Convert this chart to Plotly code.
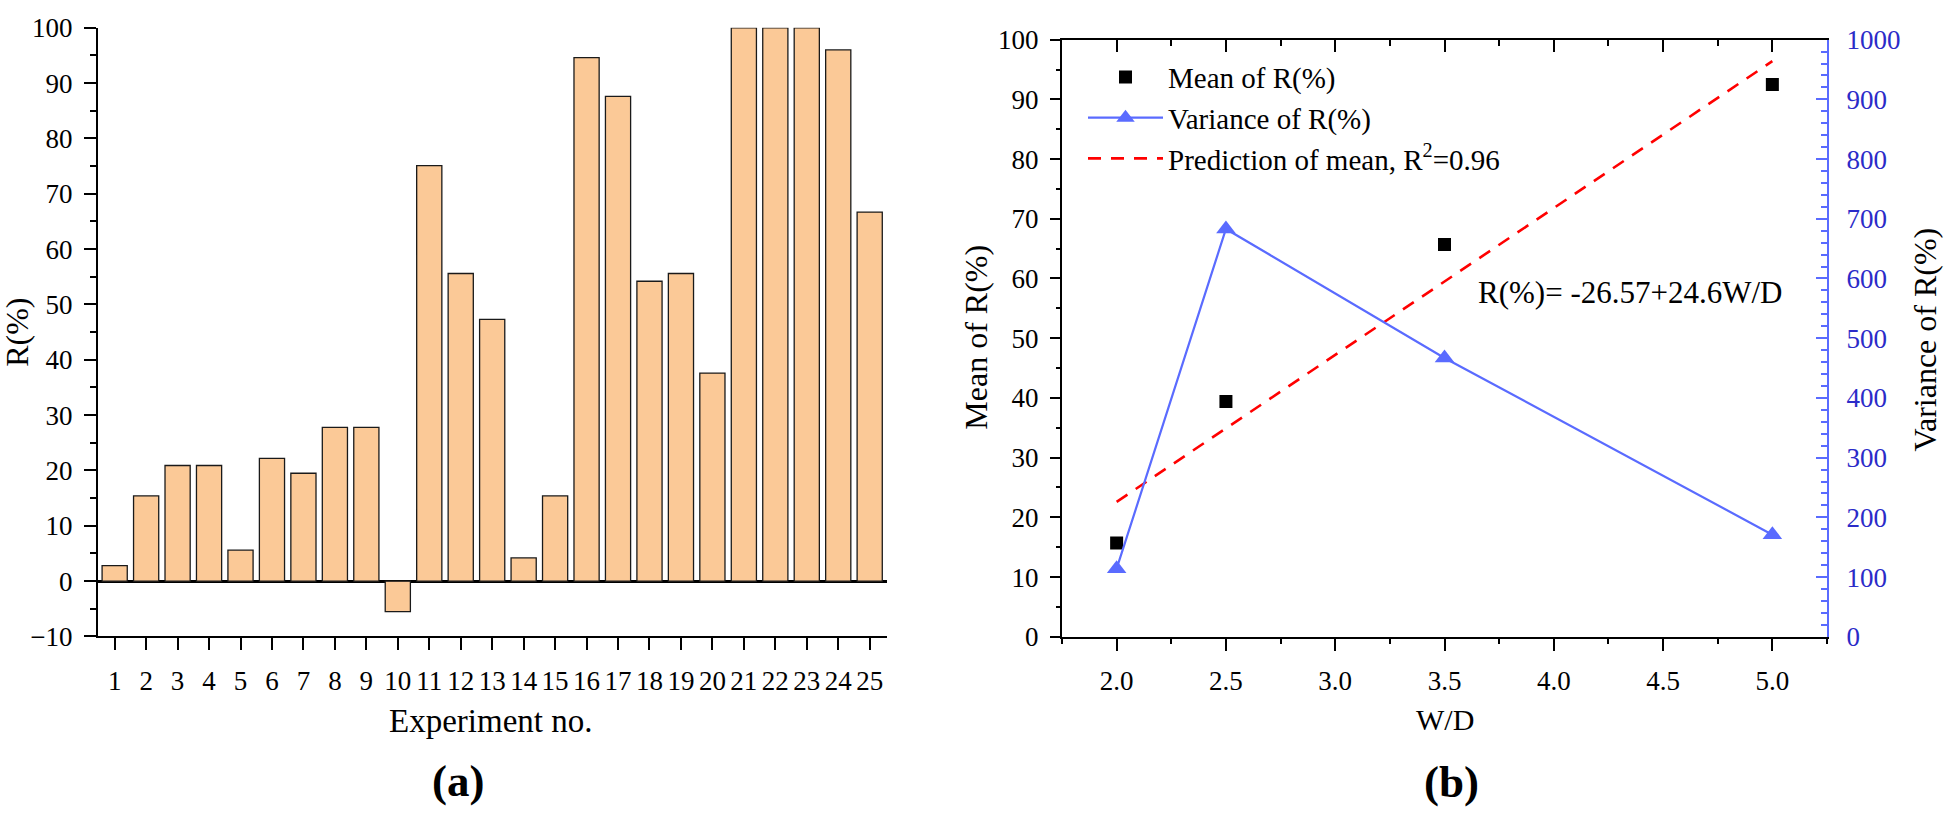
import plotly.graph_objects as go

# ---------------- data ----------------
experiments = list(range(1, 26))
r_values = [2.8, 15.4, 20.9, 20.9, 5.6, 22.2, 19.5, 27.8, 27.8, -5.5,
            75.1, 55.6, 47.3, 4.2, 15.4, 94.6, 87.6, 54.2, 55.6, 37.6,
            100.0, 100.0, 100.0, 96.0, 66.7]

wd_values = [2.0, 2.5, 3.5, 5.0]
mean_r = [15.7, 39.4, 65.7, 92.5]
variance_r = [114, 683, 467, 171]

pred_wd = [2.0, 5.0]
pred_mean = [22.6, 96.4]

x_ticks_b = [2.0, 2.5, 3.0, 3.5, 4.0, 4.5, 5.0]

# ---------------- style ----------------
W, H = 1944, 816
FONT = "Liberation Serif, Times New Roman, serif"
BAR_FILL = "#FBC997"
BLUE = "#5A6BFF"
BLUE_TXT = "#2B2BC8"

def px_x(x):
    return x / W

def px_y(y):
    return 1 - y / H

fig = go.Figure()

# Panel (a): bars
fig.add_trace(go.Bar(
    x=experiments, y=r_values, width=0.8,
    marker=dict(color=BAR_FILL, line=dict(color="#1a1a1a", width=1.3)),
    xaxis="x", yaxis="y", showlegend=False,
))

# Panel (b)
fig.add_trace(go.Scatter(
    x=wd_values, y=mean_r, mode="markers", name="Mean of R(%)",
    marker=dict(symbol="square", size=13, color="black"),
    xaxis="x2", yaxis="y2",
))
fig.add_trace(go.Scatter(
    x=wd_values, y=variance_r, mode="lines+markers", name="Variance of R(%)",
    line=dict(color=BLUE, width=2.2),
    marker=dict(symbol="triangle-up", size=17, color=BLUE),
    xaxis="x2", yaxis="y3",
))
fig.add_trace(go.Scatter(
    x=pred_wd, y=pred_mean, mode="lines",
    name="Prediction of mean, R<sup>2</sup>=0.96",
    line=dict(color="#FF0000", width=2.6, dash="13px,10px"),
    xaxis="x2", yaxis="y2",
))
# empty trace to host the top mirror axis
fig.add_trace(go.Scatter(x=[None], y=[None], mode="markers", xaxis="x3", yaxis="y2",
                         showlegend=False, hoverinfo="skip"))

tickfont = dict(family=FONT, size=27, color="black")

left_dom_a = [px_x(98), px_x(887)]
dom_y_a = [px_y(645.2), px_y(13.3)]
dom_x_b = [px_x(1062), px_x(1827)]
dom_y_b = [px_y(645.5), px_y(25.6)]

fig.update_layout(
    width=W, height=H,
    margin=dict(l=0, r=0, t=0, b=0),
    paper_bgcolor="white", plot_bgcolor="white",
    font=dict(family=FONT, color="black"),
    xaxis=dict(
        domain=left_dom_a, anchor="y", range=[0.47, 25.55],
        tickmode="array", tickvals=experiments, ticktext=[str(e) for e in experiments],
        ticks="outside", ticklen=12, tickwidth=2, tickcolor="black",
        showline=True, linecolor="black", linewidth=2,
        showgrid=False, zeroline=False, tickfont=tickfont, ticklabelstandoff=7,
    ),
    yaxis=dict(
        domain=dom_y_a, anchor="x", range=[-10, 100],
        dtick=10, ticks="outside", ticklen=12, tickwidth=2, tickcolor="black",
        minor=dict(dtick=5, ticks="outside", ticklen=6, tickwidth=2, tickcolor="black"),
        showline=True, linecolor="black", linewidth=2,
        showgrid=False, zeroline=True, zerolinecolor="black", zerolinewidth=3,
        tickfont=tickfont, ticklabelstandoff=6,
    ),
    xaxis2=dict(
        domain=dom_x_b, anchor="y2", range=[1.75, 5.25],
        tickmode="array", tickvals=x_ticks_b, ticktext=[f"{v:.1f}" for v in x_ticks_b],
        ticks="outside", ticklen=12, tickwidth=2, tickcolor="black",
        minor=dict(dtick=0.25, tick0=2.0, ticks="outside", ticklen=5, tickwidth=2, tickcolor="black"),
        showline=True, linecolor="black", linewidth=2,
        showgrid=False, zeroline=False, tickfont=tickfont, ticklabelstandoff=7,
    ),
    xaxis3=dict(
        overlaying="x2", side="top", anchor="y2", range=[1.75, 5.25],
        tickmode="array", tickvals=x_ticks_b, showticklabels=False,
        ticks="inside", ticklen=12, tickwidth=2, tickcolor="black",
        minor=dict(dtick=0.25, tick0=2.0, ticks="inside", ticklen=6, tickwidth=2, tickcolor="black"),
        showline=True, linecolor="black", linewidth=2,
        showgrid=False, zeroline=False,
    ),
    yaxis2=dict(
        domain=dom_y_b, anchor="x2", range=[0, 100],
        dtick=10, ticks="outside", ticklen=10, tickwidth=2, tickcolor="black",
        minor=dict(dtick=5, ticks="outside", ticklen=4, tickwidth=2, tickcolor="black"),
        showline=True, linecolor="black", linewidth=2,
        showgrid=False, zeroline=False, tickfont=tickfont, ticklabelstandoff=6,
    ),
    yaxis3=dict(
        overlaying="y2", side="right", anchor="x2", range=[0, 1000],
        dtick=100, ticks="inside", ticklen=11, tickwidth=2, tickcolor=BLUE,
        minor=dict(dtick=20, ticks="inside", ticklen=6, tickwidth=2, tickcolor=BLUE),
        showline=True, linecolor=BLUE, linewidth=2,
        showgrid=False, zeroline=False,
        tickfont=dict(family=FONT, size=27, color=BLUE_TXT), ticklabelstandoff=12,
    ),
    legend=dict(
        x=px_x(1083), y=px_y(38), xanchor="left", yanchor="top",
        bgcolor="rgba(0,0,0,0)", borderwidth=0,
        font=dict(family=FONT, size=29, color="black"),
        itemwidth=75, tracegroupgap=0,
    ),
    bargap=0.2,
)

annotations = [
    dict(text="R(%)", x=px_x(17), y=px_y(330), textangle=-90, size=32),
    dict(text="Experiment no.", x=px_x(491), y=px_y(733), textangle=0, size=33),
    dict(text="<b>(a)</b>", x=px_x(458), y=px_y(795), textangle=0, size=45),
    dict(text="Mean of R(%)", x=px_x(976), y=px_y(335), textangle=-90, size=32),
    dict(text="Variance of R(%)", x=px_x(1925), y=px_y(337), textangle=-90, size=32),
    dict(text="W/D", x=px_x(1445), y=px_y(731), textangle=0, size=30),
    dict(text="<b>(b)</b>", x=px_x(1451), y=px_y(796), textangle=0, size=45),
]
for a in annotations:
    fig.add_annotation(
        text=a["text"], x=a["x"], y=a["y"], xref="paper", yref="paper",
        xanchor="center", yanchor="middle", textangle=a["textangle"],
        showarrow=False, font=dict(family=FONT, size=a["size"], color="black"),
    )

fig.add_annotation(
    text="R(%)= -26.57+24.6W/D", x=px_x(1476), y=px_y(288),
    xref="paper", yref="paper", xanchor="left", yanchor="middle",
    showarrow=False, font=dict(family=FONT, size=31, color="black"),
)

fig.write_html("out.html", config={"displayModeBar": False},
               post_script="document.body.style.margin='0';")
